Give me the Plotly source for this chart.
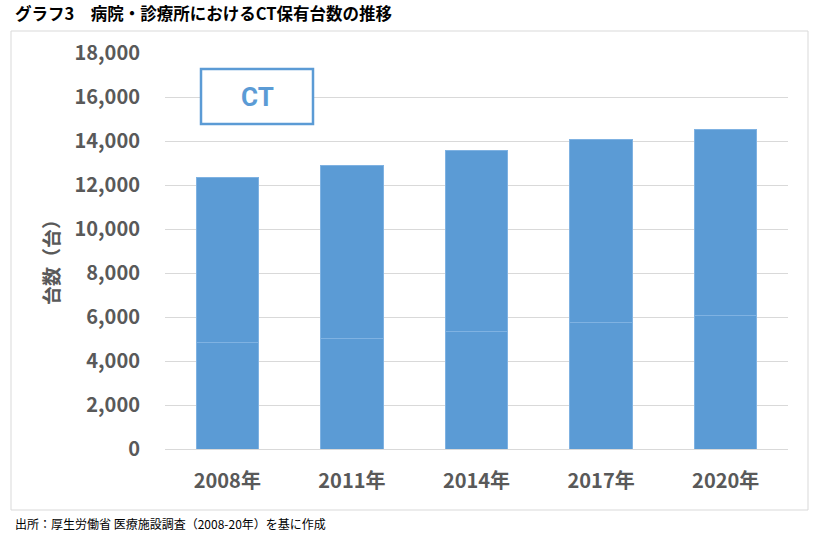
import plotly.graph_objects as go

categories = ["2008年", "2011年", "2014年", "2017年", "2020年"]
lower_values = [4850, 5030, 5360, 5770, 6090]
upper_values = [7510, 7850, 8210, 8310, 8450]
y_ticks = [0, 2000, 4000, 6000, 8000, 10000, 12000, 14000, 16000, 18000]
y_tick_labels = ["0", "2,000", "4,000", "6,000", "8,000", "10,000", "12,000", "14,000", "16,000", "18,000"]

BLUE = "#5B9BD5"
EDGE = "#7FB2E2"
GRAY = "#595959"
TICKFONT = "'Noto Sans CJK JP', Roboto, sans-serif"

fig = go.Figure()
fig.add_trace(go.Bar(x=categories, y=lower_values, marker=dict(color=BLUE, line=dict(color=EDGE, width=1)),
                     width=0.5, hoverinfo="skip"))
fig.add_trace(go.Bar(x=categories, y=upper_values, marker=dict(color=BLUE, line=dict(color=EDGE, width=1)),
                     width=0.5, hoverinfo="skip"))

W, H = 819, 538
L, R, T, B = 165, 31, 53, 89
pw = W - L - R
ph = H - T - B

def px(x):
    return (x - L) / pw

def py(y):
    return (H - B - y) / ph

fig.update_layout(
    width=W, height=H,
    margin=dict(l=L, r=R, t=T, b=B),
    barmode="stack",
    showlegend=False,
    plot_bgcolor="white",
    paper_bgcolor="white",
    font=dict(family=TICKFONT, color=GRAY),
    xaxis=dict(showgrid=False, showline=False, ticks="", ticklabelstandoff=18,
               tickfont=dict(size=20, color=GRAY, weight=600, family=TICKFONT)),
    yaxis=dict(range=[0, 18000], tickvals=y_ticks, ticktext=y_tick_labels, showgrid=True, gridcolor="#D9D9D9",
               gridwidth=1, zeroline=True, zerolinecolor="#D9D9D9", zerolinewidth=1, showline=False,
               ticks="", ticklabelstandoff=24,
               tickfont=dict(size=20, color=GRAY, weight=600, family=TICKFONT)),
    shapes=[
        dict(type="rect", xref="paper", yref="paper", x0=px(11), x1=px(808), y0=py(510), y1=py(31),
             line=dict(color="#D9D9D9", width=1), fillcolor="rgba(0,0,0,0)", layer="below"),
        dict(type="rect", xref="paper", yref="paper", x0=px(201), x1=px(313), y0=py(124), y1=py(69),
             line=dict(color=BLUE, width=2.5), fillcolor="white", layer="above"),
    ],
    annotations=[
        dict(text="グラフ3　病院・診療所におけるCT保有台数の推移", xref="paper", yref="paper", x=px(13), y=py(13),
             xanchor="left", yanchor="middle", showarrow=False,
             font=dict(size=16.5, color="#000000", weight="bold", family="'Noto Sans CJK JP', sans-serif")),
        dict(text="CT", xref="paper", yref="paper", x=px(257), y=py(96.5), xanchor="center", yanchor="middle",
             showarrow=False, font=dict(size=26, color=BLUE, weight="bold", family="Roboto, sans-serif")),
        dict(text="台数（台）", xref="paper", yref="paper", x=px(50), y=py(258), xanchor="center", yanchor="middle",
             textangle=-90, showarrow=False,
             font=dict(size=19, color=GRAY, weight="bold", family="'Noto Sans CJK JP', sans-serif")),
        dict(text="出所：厚生労働省 医療施設調査（2008-20年）を基に作成", xref="paper", yref="paper", x=px(13), y=py(523),
             xanchor="left", yanchor="middle", showarrow=False,
             font=dict(size=12, color="#000000", family="'Noto Sans CJK JP', sans-serif")),
    ],
)

fig.write_html("out.html", config={"displayModeBar": False},
               post_script="document.body.style.margin='0';")
